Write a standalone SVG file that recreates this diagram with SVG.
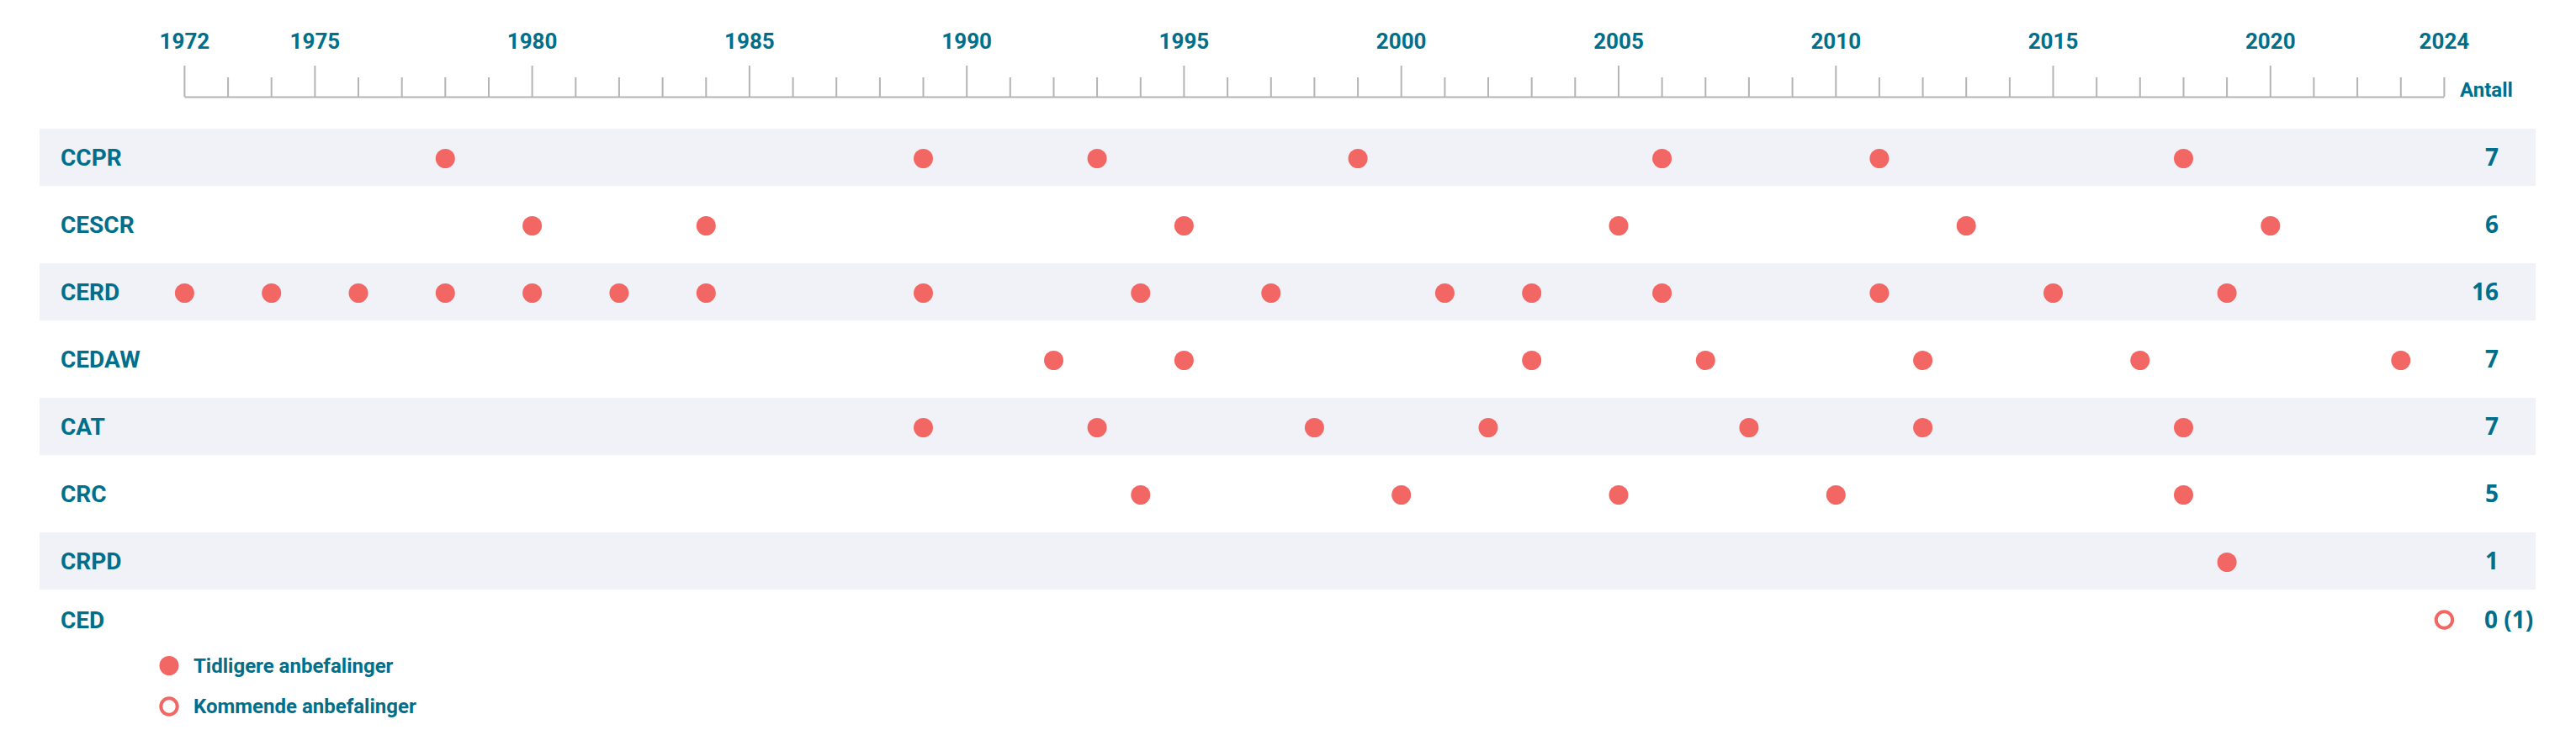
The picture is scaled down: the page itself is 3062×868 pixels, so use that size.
<svg xmlns="http://www.w3.org/2000/svg" width="3062" height="868" viewBox="0 0 3062 868">
<style>
.bg{fill:#ffffff}
.band{fill:#f0f2f7}
.lbl{font-family:Roboto,"Liberation Sans",sans-serif;font-weight:bold;font-size:28px;fill:#006f8b}
.yr{font-family:Roboto,"Liberation Sans",sans-serif;font-weight:bold;font-size:26px;fill:#006f8b;text-anchor:middle}
.ant{font-family:Roboto,"Liberation Sans",sans-serif;font-weight:bold;font-size:24px;fill:#006f8b}
.num{font-family:"Open Sans","Noto Sans",sans-serif;font-weight:bold;font-size:28px;fill:#006f8b;text-anchor:end}
.numS{font-family:"Open Sans","Noto Sans",sans-serif;font-weight:bold;font-size:28px;fill:#006f8b}
.leg{font-family:Roboto,"Liberation Sans",sans-serif;font-weight:bold;font-size:24px;fill:#006f8b}
.dot{fill:#f26764}
.open{fill:#ffffff;stroke:#f26764;stroke-width:4}
.tick{stroke:#b4b4b8;stroke-width:2;fill:none}
</style>
<rect class="bg" x="0" y="0" width="3062" height="868"/>

<g id="axis">
<path class="tick" d="M219.4 115.5 H2905.4"/>
<path class="tick" d="M219.4 78 V115 M374.4 78 V115 M632.6 78 V115 M890.9 78 V115 M1149.2 78 V115 M1407.4 78 V115 M1665.7 78 V115 M1924 78 V115 M2182.3 78 V115 M2440.5 78 V115 M2698.8 78 V115"/>
<path class="tick" d="M271.1 92 V115 M322.7 92 V115 M426 92 V115 M477.7 92 V115 M529.3 92 V115 M581 92 V115 M684.3 92 V115 M735.9 92 V115 M787.6 92 V115 M839.3 92 V115 M942.6 92 V115 M994.2 92 V115 M1045.9 92 V115 M1097.5 92 V115 M1200.8 92 V115 M1252.5 92 V115 M1304.1 92 V115 M1355.8 92 V115 M1459.1 92 V115 M1510.8 92 V115 M1562.4 92 V115 M1614.1 92 V115 M1717.4 92 V115 M1769 92 V115 M1820.7 92 V115 M1872.3 92 V115 M1975.6 92 V115 M2027.3 92 V115 M2078.9 92 V115 M2130.6 92 V115 M2233.9 92 V115 M2285.6 92 V115 M2337.2 92 V115 M2388.9 92 V115 M2492.2 92 V115 M2543.8 92 V115 M2595.5 92 V115 M2647.1 92 V115 M2750.4 92 V115 M2802.1 92 V115 M2853.8 92 V115 M2905.4 92 V115"/>
<text class="yr" x="219.4" y="58">1972</text>
<text class="yr" x="374.4" y="58">1975</text>
<text class="yr" x="632.6" y="58">1980</text>
<text class="yr" x="890.9" y="58">1985</text>
<text class="yr" x="1149.2" y="58">1990</text>
<text class="yr" x="1407.4" y="58">1995</text>
<text class="yr" x="1665.7" y="58">2000</text>
<text class="yr" x="1924" y="58">2005</text>
<text class="yr" x="2182.3" y="58">2010</text>
<text class="yr" x="2440.5" y="58">2015</text>
<text class="yr" x="2698.8" y="58">2020</text>
<text class="yr" x="2905.4" y="58">2024</text>
<text class="ant" x="2924" y="115">Antall</text>
</g>

<g id="row-ccpr">
<rect class="band" x="47" y="153" width="2967" height="68"/>
<text class="lbl" x="72" y="197">CCPR</text>
<circle class="dot" cx="529.3" cy="188.5" r="11.5"/>
<circle class="dot" cx="1097.5" cy="188.5" r="11.5"/>
<circle class="dot" cx="1304.1" cy="188.5" r="11.5"/>
<circle class="dot" cx="1614.1" cy="188.5" r="11.5"/>
<circle class="dot" cx="1975.6" cy="188.5" r="11.5"/>
<circle class="dot" cx="2233.9" cy="188.5" r="11.5"/>
<circle class="dot" cx="2595.5" cy="188.5" r="11.5"/>
<text class="num" x="2970" y="197">7</text>
</g>

<g id="row-cescr">
<text class="lbl" x="72" y="277">CESCR</text>
<circle class="dot" cx="632.6" cy="268.5" r="11.5"/>
<circle class="dot" cx="839.3" cy="268.5" r="11.5"/>
<circle class="dot" cx="1407.4" cy="268.5" r="11.5"/>
<circle class="dot" cx="1924" cy="268.5" r="11.5"/>
<circle class="dot" cx="2337.2" cy="268.5" r="11.5"/>
<circle class="dot" cx="2698.8" cy="268.5" r="11.5"/>
<text class="num" x="2970" y="277">6</text>
</g>

<g id="row-cerd">
<rect class="band" x="47" y="313" width="2967" height="68"/>
<text class="lbl" x="72" y="357">CERD</text>
<circle class="dot" cx="219.4" cy="348.5" r="11.5"/>
<circle class="dot" cx="322.7" cy="348.5" r="11.5"/>
<circle class="dot" cx="426" cy="348.5" r="11.5"/>
<circle class="dot" cx="529.3" cy="348.5" r="11.5"/>
<circle class="dot" cx="632.6" cy="348.5" r="11.5"/>
<circle class="dot" cx="735.9" cy="348.5" r="11.5"/>
<circle class="dot" cx="839.3" cy="348.5" r="11.5"/>
<circle class="dot" cx="1097.5" cy="348.5" r="11.5"/>
<circle class="dot" cx="1355.8" cy="348.5" r="11.5"/>
<circle class="dot" cx="1510.8" cy="348.5" r="11.5"/>
<circle class="dot" cx="1717.4" cy="348.5" r="11.5"/>
<circle class="dot" cx="1820.7" cy="348.5" r="11.5"/>
<circle class="dot" cx="1975.6" cy="348.5" r="11.5"/>
<circle class="dot" cx="2233.9" cy="348.5" r="11.5"/>
<circle class="dot" cx="2440.5" cy="348.5" r="11.5"/>
<circle class="dot" cx="2647.1" cy="348.5" r="11.5"/>
<text class="num" x="2970" y="357">16</text>
</g>

<g id="row-cedaw">
<text class="lbl" x="72" y="437">CEDAW</text>
<circle class="dot" cx="1252.5" cy="428.5" r="11.5"/>
<circle class="dot" cx="1407.4" cy="428.5" r="11.5"/>
<circle class="dot" cx="1820.7" cy="428.5" r="11.5"/>
<circle class="dot" cx="2027.3" cy="428.5" r="11.5"/>
<circle class="dot" cx="2285.6" cy="428.5" r="11.5"/>
<circle class="dot" cx="2543.8" cy="428.5" r="11.5"/>
<circle class="dot" cx="2853.8" cy="428.5" r="11.5"/>
<text class="num" x="2970" y="437">7</text>
</g>

<g id="row-cat">
<rect class="band" x="47" y="473" width="2967" height="68"/>
<text class="lbl" x="72" y="517">CAT</text>
<circle class="dot" cx="1097.5" cy="508.5" r="11.5"/>
<circle class="dot" cx="1304.1" cy="508.5" r="11.5"/>
<circle class="dot" cx="1562.4" cy="508.5" r="11.5"/>
<circle class="dot" cx="1769" cy="508.5" r="11.5"/>
<circle class="dot" cx="2078.9" cy="508.5" r="11.5"/>
<circle class="dot" cx="2285.6" cy="508.5" r="11.5"/>
<circle class="dot" cx="2595.5" cy="508.5" r="11.5"/>
<text class="num" x="2970" y="517">7</text>
</g>

<g id="row-crc">
<text class="lbl" x="72" y="597">CRC</text>
<circle class="dot" cx="1355.8" cy="588.5" r="11.5"/>
<circle class="dot" cx="1665.7" cy="588.5" r="11.5"/>
<circle class="dot" cx="1924" cy="588.5" r="11.5"/>
<circle class="dot" cx="2182.3" cy="588.5" r="11.5"/>
<circle class="dot" cx="2595.5" cy="588.5" r="11.5"/>
<text class="num" x="2970" y="597">5</text>
</g>

<g id="row-crpd">
<rect class="band" x="47" y="633" width="2967" height="68"/>
<text class="lbl" x="72" y="677">CRPD</text>
<circle class="dot" cx="2647.1" cy="668.5" r="11.5"/>
<text class="num" x="2970" y="677">1</text>
</g>

<g id="row-ced">
<text class="lbl" x="72" y="747">CED</text>
<circle class="open" cx="2905.4" cy="737" r="9.7"/>
<text class="numS" x="2953" y="747">0 (1)</text>
</g>

<g id="legend">
<circle class="dot" cx="201" cy="791.5" r="11.5"/>
<text class="leg" x="230" y="799.5">Tidligere anbefalinger</text>
<circle class="open" cx="201" cy="840" r="9.7"/>
<text class="leg" x="230" y="848">Kommende anbefalinger</text>
</g>
</svg>
